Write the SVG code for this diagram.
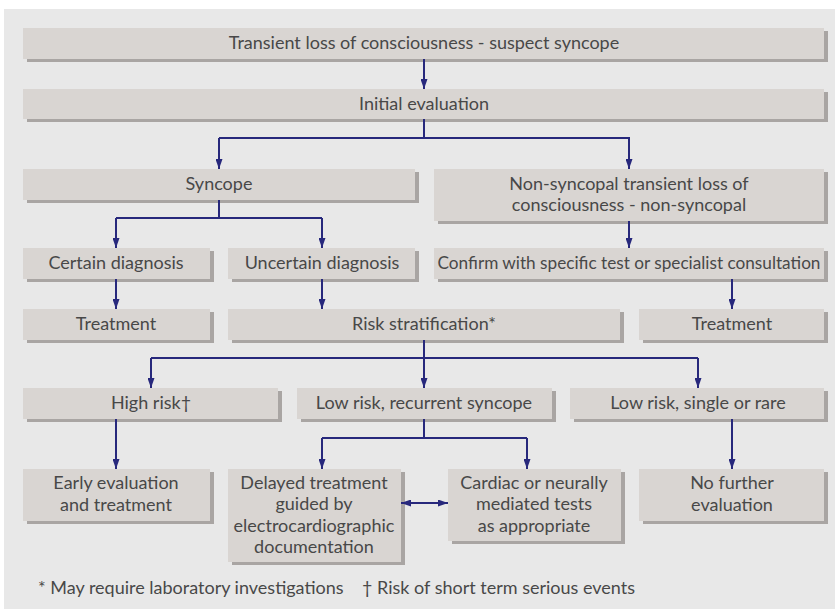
<svg xmlns="http://www.w3.org/2000/svg" width="835" height="609" viewBox="0 0 835 609">
<style>
.bg{fill:#e8e8e8}
.sh{fill:#a9a5a3}
.bx{fill:#d9d5d2}
.t{font-family:Lato,"Open Sans","Liberation Sans",sans-serif;font-size:18px;fill:#484848;text-anchor:middle}
.ft{font-family:Lato,"Open Sans","Liberation Sans",sans-serif;font-size:18px;fill:#484848}
.c{fill:none;stroke:#27287c;stroke-width:2}
</style>
<defs>
<marker id="ah" viewBox="0 0 10 7" refX="10" refY="3.5" markerWidth="10" markerHeight="7" markerUnits="userSpaceOnUse" orient="auto-start-reverse">
<path d="M0,0 L10,3.5 L0,7 z" fill="#27287c"/>
</marker>
</defs>
<rect x="0" y="0" width="835" height="609" fill="#ffffff"/>
<rect class="bg" x="4" y="9" width="831" height="600"/>

<g id="n-tloc"><rect class="sh" x="27" y="31" width="801" height="31"/><rect class="bx" x="23" y="28" width="801" height="31"/><text class="t" x="424" y="49">Transient loss of consciousness - suspect syncope</text></g>
<g id="n-initial"><rect class="sh" x="27" y="92" width="801" height="30"/><rect class="bx" x="23" y="89" width="801" height="30"/><text class="t" x="424" y="110">Initial evaluation</text></g>
<g id="n-syncope"><rect class="sh" x="27" y="172" width="392" height="31"/><rect class="bx" x="23" y="169" width="392" height="31"/><text class="t" x="219" y="190">Syncope</text></g>
<g id="n-nonsync"><rect class="sh" x="438" y="172" width="390" height="52"/><rect class="bx" x="434" y="169" width="390" height="52"/><text class="t" x="629" y="190">Non-syncopal transient loss of</text><text class="t" x="629" y="211">consciousness - non-syncopal</text></g>
<g id="n-certain"><rect class="sh" x="27" y="251" width="187" height="31"/><rect class="bx" x="23" y="248" width="187" height="31"/><text class="t" x="116" y="269">Certain diagnosis</text></g>
<g id="n-uncertain"><rect class="sh" x="232" y="251" width="187" height="31"/><rect class="bx" x="228" y="248" width="187" height="31"/><text class="t" x="322" y="269">Uncertain diagnosis</text></g>
<g id="n-confirm"><rect class="sh" x="438" y="251" width="390" height="31"/><rect class="bx" x="434" y="248" width="390" height="31"/><text class="t" x="629" y="269" style="font-size:17.2px">Confirm with specific test or specialist consultation</text></g>
<g id="n-treat1"><rect class="sh" x="27" y="312" width="187" height="31"/><rect class="bx" x="23" y="309" width="187" height="31"/><text class="t" x="116" y="330">Treatment</text></g>
<g id="n-risk"><rect class="sh" x="232" y="312" width="392" height="31"/><rect class="bx" x="228" y="309" width="392" height="31"/><text class="t" x="424" y="330">Risk stratification*</text></g>
<g id="n-treat2"><rect class="sh" x="643" y="312" width="185" height="31"/><rect class="bx" x="639" y="309" width="185" height="31"/><text class="t" x="732" y="330">Treatment</text></g>
<g id="n-high"><rect class="sh" x="27" y="391" width="255" height="31"/><rect class="bx" x="23" y="388" width="255" height="31"/><text class="t" x="151" y="409">High risk†</text></g>
<g id="n-lowrec"><rect class="sh" x="301" y="391" width="255" height="31"/><rect class="bx" x="297" y="388" width="255" height="31"/><text class="t" x="424" y="409">Low risk, recurrent syncope</text></g>
<g id="n-lowsingle"><rect class="sh" x="574" y="391" width="254" height="31"/><rect class="bx" x="570" y="388" width="254" height="31"/><text class="t" x="698" y="409">Low risk, single or rare</text></g>
<g id="n-early"><rect class="sh" x="27" y="472" width="187" height="52"/><rect class="bx" x="23" y="469" width="187" height="52"/><text class="t" x="116" y="489">Early evaluation</text><text class="t" x="116" y="511">and treatment</text></g>
<g id="n-delayed"><rect class="sh" x="232" y="472" width="173" height="93"/><rect class="bx" x="228" y="469" width="173" height="93"/><text class="t" x="314" y="489">Delayed treatment</text><text class="t" x="314" y="510">guided by</text><text class="t" x="314" y="532">electrocardiographic</text><text class="t" x="314" y="553">documentation</text></g>
<g id="n-cardiac"><rect class="sh" x="452" y="472" width="173" height="72"/><rect class="bx" x="448" y="469" width="173" height="72"/><text class="t" x="534" y="489">Cardiac or neurally</text><text class="t" x="534" y="510">mediated tests</text><text class="t" x="534" y="532">as appropriate</text></g>
<g id="n-nofurther"><rect class="sh" x="643" y="472" width="185" height="52"/><rect class="bx" x="639" y="469" width="185" height="52"/><text class="t" x="732" y="489">No further</text><text class="t" x="732" y="511">evaluation</text></g>

<g id="connectors">
<path class="c" d="M424,59 V89" marker-end="url(#ah)"/>
<path class="c" d="M424,119 V138"/>
<path class="c" d="M219,138 H629 V169" marker-end="url(#ah)"/>
<path class="c" d="M219,138 V169" marker-end="url(#ah)"/>
<path class="c" d="M219,200 V218"/>
<path class="c" d="M116,218 H322"/>
<path class="c" d="M116,218 V248" marker-end="url(#ah)"/>
<path class="c" d="M322,218 V248" marker-end="url(#ah)"/>
<path class="c" d="M629,221 V248" marker-end="url(#ah)"/>
<path class="c" d="M116,279 V309" marker-end="url(#ah)"/>
<path class="c" d="M322,279 V309" marker-end="url(#ah)"/>
<path class="c" d="M732,279 V309" marker-end="url(#ah)"/>
<path class="c" d="M424,340 V388" marker-end="url(#ah)"/>
<path class="c" d="M151,358 H698"/>
<path class="c" d="M151,358 V388" marker-end="url(#ah)"/>
<path class="c" d="M698,358 V388" marker-end="url(#ah)"/>
<path class="c" d="M116,419 V469" marker-end="url(#ah)"/>
<path class="c" d="M424,419 V438"/>
<path class="c" d="M322,438 H527"/>
<path class="c" d="M322,438 V469" marker-end="url(#ah)"/>
<path class="c" d="M527,438 V469" marker-end="url(#ah)"/>
<path class="c" d="M401,503 H448" marker-start="url(#ah)" marker-end="url(#ah)"/>
<path class="c" d="M732,419 V469" marker-end="url(#ah)"/>
</g>

<text class="ft" x="38" y="594" xml:space="preserve">* May require laboratory investigations    † Risk of short term serious events</text>
</svg>
